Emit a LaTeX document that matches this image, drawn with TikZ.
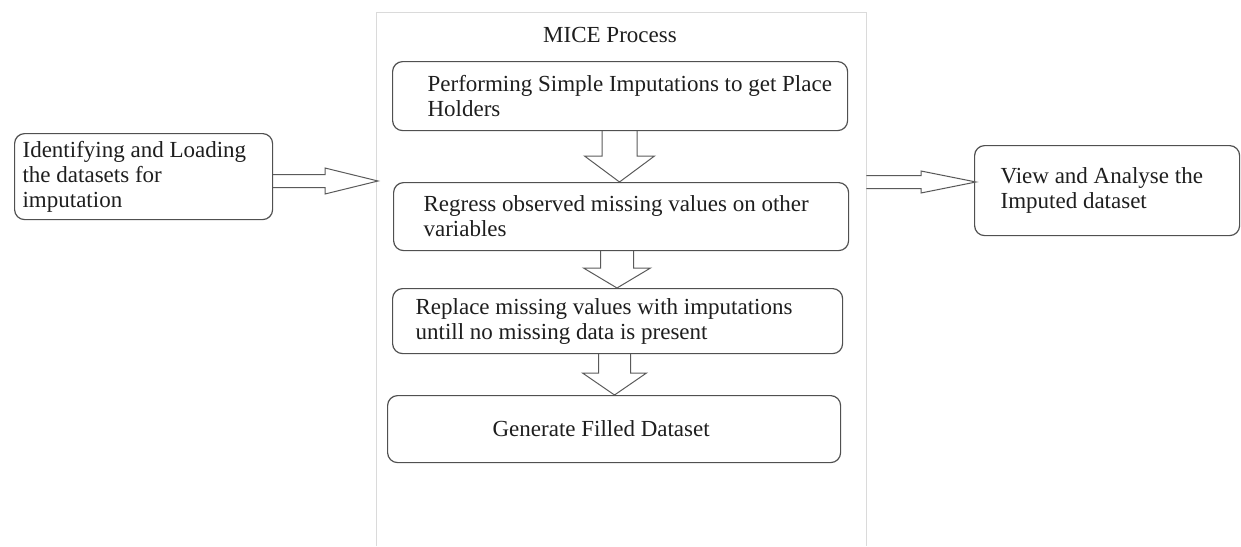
\documentclass[tikz,border=0pt]{standalone}
\usepackage{fontspec}
\setmainfont{Liberation Serif}
\usetikzlibrary{calc}

\definecolor{boxline}{HTML}{505050}
\definecolor{arrowline}{HTML}{5A5A5A}
\definecolor{frameline}{HTML}{DADADA}
\definecolor{ink}{HTML}{1E1E1E}

% text of a process box: box width, left indent, lines
\newcommand\boxtext[3]{%
  \parbox[c]{#1}{\raggedright\leftskip=#2\relax #3}}

% hollow block arrow pointing right: tail point, tip point,
% shaft half width, head half width, head length
\newcommand\rightblock[5]{%
  \draw[blockarrow] let \p1=#1, \p2=#2 in
    (\x1,\y2+#3) -- (\x2-#5,\y2+#3) -- (\x2-#5,\y2+#4) -- (\x2,\y2)
    -- (\x2-#5,\y2-#4) -- (\x2-#5,\y2-#3) -- (\x1,\y2-#3);}

% hollow block arrow pointing down: tail point, tip point,
% shaft half width, head half width, head length
\newcommand\downblock[5]{%
  \draw[blockarrow] let \p1=#1, \p2=#2 in
    (\x2-#3,\y1) -- (\x2-#3,\y2+#5) -- (\x2-#4,\y2+#5) -- (\x2,\y2)
    -- (\x2+#4,\y2+#5) -- (\x2+#3,\y2+#5) -- (\x2+#3,\y1);}

\begin{document}
\begin{tikzpicture}[x=1pt,y=-1pt,
  procbox/.style={draw=boxline, line width=1.2pt, rounded corners=10pt,
    inner sep=0pt, text=ink, anchor=north west,
    font=\fontsize{23}{25}\selectfont},
  blockarrow/.style={draw=arrowline, line width=1pt, line join=miter},
  frame/.style={draw=frameline, line width=1pt}]

\useasboundingbox (0,0) rectangle (1241,546);

% MICE container (open at the bottom)
\node[inner sep=0pt, minimum width=490pt, minimum height=534pt,
      anchor=north west] (mice) at (376,12) {};
\draw[frame] (mice.south west) -- (mice.north west) -- (mice.north east)
  -- (mice.south east);
\node[anchor=base, text=ink, font=\fontsize{23}{25}\selectfont, inner sep=0pt]
  (title) at (610,42) {MICE Process};

% input and output boxes
\node[procbox, minimum height=86pt] (load) at (14,133)
  {\boxtext{258pt}{8pt}{Identifying and Loading\\the datasets for\\imputation}};
\node[procbox, minimum height=90pt] (view) at (974,145)
  {\boxtext{265pt}{26pt}{View and Analyse the\\Imputed dataset}};

% MICE steps
\node[procbox, minimum height=69pt] (b1) at (392,61)
  {\boxtext{455pt}{35pt}{Performing Simple Imputations to get Place\\Holders}};
\node[procbox, minimum height=68pt] (b2) at (393,182)
  {\boxtext{455pt}{30pt}{Regress observed missing values on other\\variables}};
\node[procbox, minimum height=65pt] (b3) at (392,288)
  {\boxtext{450pt}{23pt}{Replace missing values with imputations\\untill no missing data is present}};
\node[procbox, minimum height=67pt] (b4) at (387,395)
  {\boxtext{453pt}{105pt}{Generate Filled Dataset}};

% level of the horizontal arrows
\coordinate (lvl) at (0,181);

% connectors
\rightblock{(load.east |- lvl)}{($(mice.west |- lvl)+(2,0)$)}{6.5pt}{13pt}{53pt}
\rightblock{(mice.east |- lvl)}{($(view.west |- lvl)+(2,1)$)}{6.5pt}{11pt}{55pt}
\downblock{(b1.south)}{(b2.north -| 619.5,0)}{17.5pt}{35pt}{26pt}
\downblock{(b2.south)}{(b3.north -| 617,0)}{16.5pt}{33.5pt}{20pt}
\downblock{(b3.south)}{(b4.north -| 614.5,0)}{16pt}{32pt}{22pt}
\end{tikzpicture}
\end{document}
